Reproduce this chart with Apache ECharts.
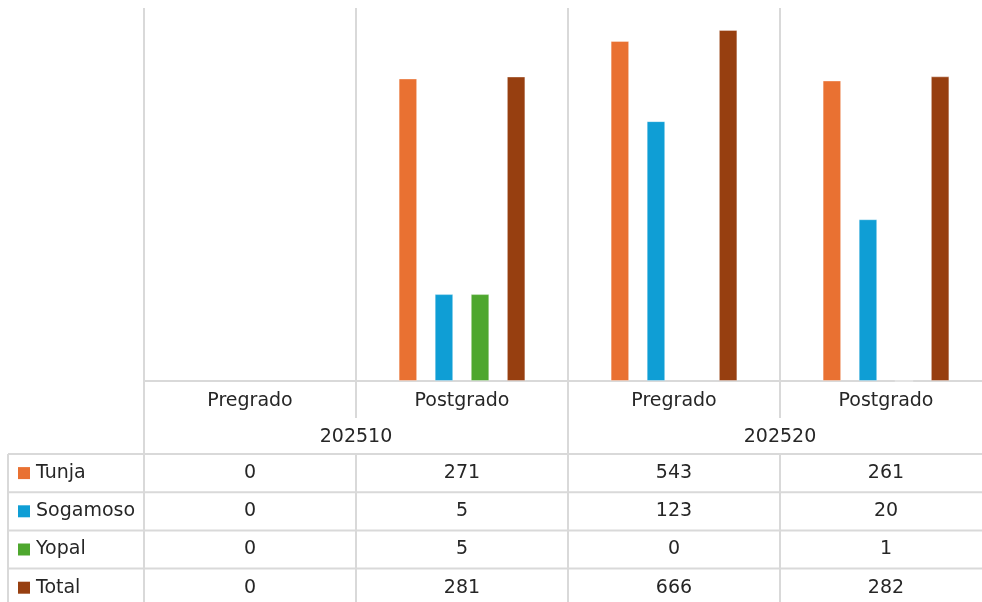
<!DOCTYPE html>
<html><head><meta charset="utf-8">
<script src="https://cdn.jsdelivr.net/npm/echarts@6/dist/echarts.min.js"></script>
<style>html,body{margin:0;padding:0;background:#fff}#c{width:982px;height:602px}</style>
</head><body><div id="c"></div>
<script>
const categories = ['Pregrado', 'Postgrado', 'Pregrado', 'Postgrado'];
const periods = ['202510', '202520'];
const seriesNames = ['Tunja', 'Sogamoso', 'Yopal', 'Total'];
const tunja = [0, 271, 543, 261];
const sogamoso = [0, 5, 123, 20];
const yopal = [0, 5, 0, 1];
const total = [0, 281, 666, 282];
const colors = ['#E97132', '#0F9ED5', '#4EA72E', '#973F10'];
const allValues = [tunja, sogamoso, yopal, total];

const FONT = 'DejaVu Sans';
const TXT = '#262626';
const LINE = '#D9D9D9';

const chart = echarts.init(document.getElementById('c'));
const opt = {
  animation: false,
  grid: { left: 144, right: -10, top: 8, bottom: 221, outerBoundsMode: 'none', containLabel: false },
  xAxis: {
    type: 'category',
    data: categories.map((c, i) => i),
    axisLine: { show: false },
    axisTick: { show: false },
    axisLabel: { show: false },
    splitLine: { show: false }
  },
  yAxis: {
    type: 'log', logBase: 10, min: 1, max: 1000,
    axisLine: { show: false }, axisTick: { show: false },
    axisLabel: { show: false }, splitLine: { show: false }
  },
  series: allValues.map((vals, i) => ({
    type: 'bar',
    name: seriesNames[i],
    data: vals.map(v => v > 0 ? v : null),
    barWidth: 18.5,
    barGap: '95%',
    itemStyle: { color: colors[i], borderColor: 'rgba(255,255,255,0.35)', borderWidth: 1 }
  }))
};
chart.setOption(opt);

function build() {
  const x0 = chart.convertToPixel({ xAxisIndex: 0 }, 0);
  const x1 = chart.convertToPixel({ xAxisIndex: 0 }, 1);
  const w = x1 - x0;
  const left = x0 - w / 2;
  const bounds = [0, 1, 2, 3, 4].map(i => left + i * w);
  const centers = [0, 1, 2, 3].map(i => left + (i + 0.5) * w);
  const yAxisY = chart.convertToPixel({ yAxisIndex: 0 }, 1);
  const topY = chart.convertToPixel({ yAxisIndex: 0 }, 1000);
  const rowH = 38.2;
  const tableTop = 454;
  const g = [];
  const line = (xa, ya, xb, yb) => g.push({ type: 'line', shape: { x1: xa, y1: ya, x2: xb, y2: yb }, style: { stroke: LINE, lineWidth: 2 }, silent: true, z: 0 });
  bounds.forEach((b, i) => {
    if (i === 0 || i === 2 || i === 4) line(b, topY, b, 620);
    else { line(b, topY, b, 418); line(b, tableTop, b, 620); }
  });
  line(left, yAxisY, 1000, yAxisY);
  line(8, tableTop, 1000, tableTop);
  for (let r = 1; r <= 4; r++) line(8, tableTop + r * rowH, 1000, tableTop + r * rowH);
  line(8, tableTop, 8, 620);
  const text = (t, x, y, align) => g.push({ type: 'text', x: x, y: y, style: { text: t, fill: TXT, font: '19px "' + FONT + '"', align: align || 'center', verticalAlign: 'middle' }, silent: true, z: 5 });
  categories.forEach((c, i) => text(c, centers[i], 401));
  periods.forEach((p, i) => text(p, bounds[i * 2 + 1], 437));
  seriesNames.forEach((s, r) => {
    const cy = tableTop + (r + 0.5) * rowH;
    g.push({ type: 'rect', shape: { x: 18, y: cy - 6, width: 12, height: 12 }, style: { fill: colors[r] }, silent: true, z: 5 });
    text(s, 36, cy, 'left');
    allValues[r].forEach((v, i) => text(String(v), centers[i], cy));
  });
  chart.setOption({ graphic: { elements: g } });
}
build();
</script></body></html>
